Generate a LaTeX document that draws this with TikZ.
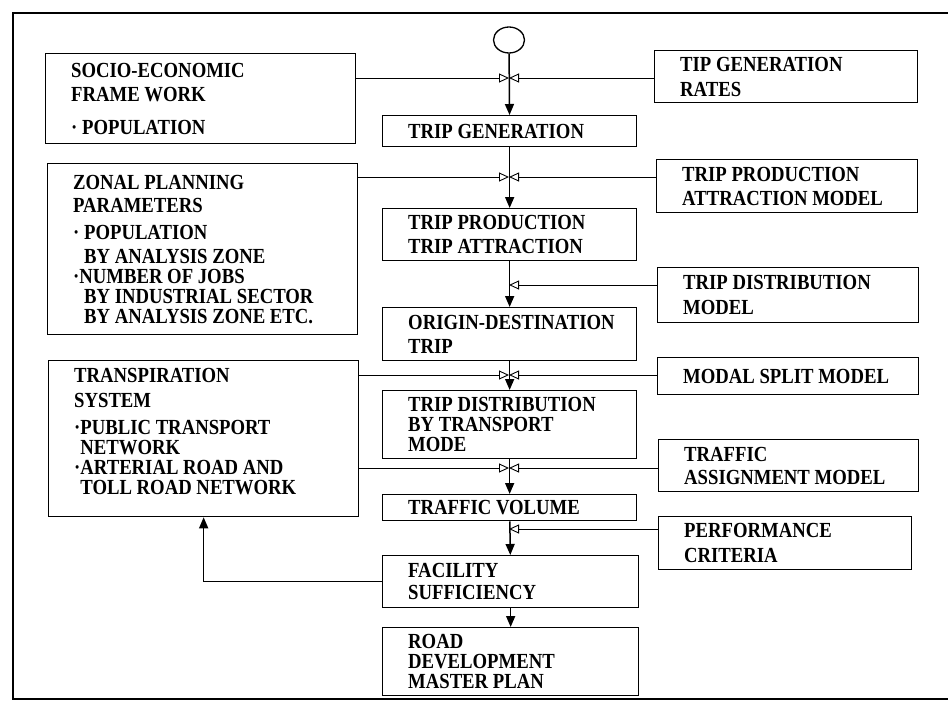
\documentclass[tikz,border=0pt]{standalone}
\usepackage{fontspec}
\setmainfont{Liberation Serif}
\newfontfamily\scanfont[FakeStretch=0.87]{Liberation Serif}
\usepackage{tikz}
\usetikzlibrary{arrows.meta,shapes.geometric,positioning,calc}

\begin{document}
\begin{tikzpicture}[x=1pt,y=-1pt,
		box/.style={draw,line width=1.3pt,anchor=north west,inner sep=0},
		txt/.style={anchor=west,align=left,inner sep=0,font=\scanfont\fontsize{21.5}{20}\selectfont\bfseries},
		main/.style={line width=1.5pt,-{Triangle[length=11pt,width=9pt]}},
		side/.style={line width=0.9pt,-{Triangle[open,length=10pt,width=9pt]}}]
		\useasboundingbox (0,0) rectangle (948,704);
		% outer frame
		\draw[line width=1.5pt] (948,13) -- (13,13) -- (13,699) -- (948,699);
		
		% left column
		\node[box,minimum width=310,minimum height=90] (socio) at (45,53) {};
		\node[txt] (socio-t) at ([xshift=26]socio.west) {SOCIO-ECONOMIC\\[4pt]FRAME WORK\\[13pt]\textperiodcentered{} POPULATION};
		\node[box,minimum width=310,minimum height=171] (zonal) at (47,163) {};
		\node[txt] (zonal-t) at ([xshift=26]zonal.west) {ZONAL PLANNING\\[3pt]PARAMETERS\\[7pt]\textperiodcentered{} POPULATION\\[4pt]\phantom{\textperiodcentered{} }BY ANALYSIS ZONE\\\textperiodcentered NUMBER OF JOBS\\\phantom{\textperiodcentered{} }BY INDUSTRIAL SECTOR\\\phantom{\textperiodcentered{} }BY ANALYSIS ZONE ETC.};
		\node[box,minimum width=310,minimum height=156] (transp) at (48,360) {};
		\node[txt] (transp-t) at ([xshift=26,yshift=7]transp.west) {TRANSPIRATION\\[5pt]SYSTEM\\[7pt]\textperiodcentered PUBLIC TRANSPORT\\\phantom{\textperiodcentered{}}NETWORK\\\textperiodcentered ARTERIAL ROAD AND\\\phantom{\textperiodcentered{}}TOLL ROAD NETWORK};
		
		% centre column
		\node[draw,ellipse,line width=1.3pt,minimum width=31,minimum height=26,inner sep=0] (start) at (509,40) {};
		\node[box,minimum width=254,minimum height=31] (gen) at (382,115) {};
		\node[txt] (gen-t) at ([xshift=26]gen.west) {TRIP GENERATION};
		\node[box,minimum width=254,minimum height=52] (prod) at (382,208) {};
		\node[txt] (prod-t) at ([xshift=26]prod.west) {TRIP PRODUCTION\\[4pt]TRIP ATTRACTION};
		\node[box,minimum width=254,minimum height=53] (od) at (382,307) {};
		\node[txt] (od-t) at ([xshift=26]od.west) {ORIGIN-DESTINATION\\[4pt]TRIP};
		\node[box,minimum width=254,minimum height=68] (tdbm) at (382,390) {};
		\node[txt] (tdbm-t) at ([xshift=26]tdbm.west) {TRIP DISTRIBUTION\\BY TRANSPORT\\MODE};
		\node[box,minimum width=254,minimum height=26] (vol) at (382,494) {};
		\node[txt] (vol-t) at ([xshift=26]vol.west) {TRAFFIC VOLUME};
		\node[box,minimum width=256,minimum height=52] (fac) at (382,555) {};
		\node[txt] (fac-t) at ([xshift=26]fac.west) {FACILITY\\[2pt]SUFFICIENCY};
		\node[box,minimum width=256,minimum height=68] (road) at (382,627) {};
		\node[txt] (road-t) at ([xshift=26]road.west) {ROAD\\DEVELOPMENT\\MASTER PLAN};
		
		% right column
		\node[box,minimum width=263,minimum height=52] (rates) at (654,50) {};
		\node[txt] (rates-t) at ([xshift=26]rates.west) {TIP GENERATION\\[5pt]RATES};
		\node[box,minimum width=261,minimum height=53] (tpam) at (656,159) {};
		\node[txt] (tpam-t) at ([xshift=26]tpam.west) {TRIP PRODUCTION\\[4pt]ATTRACTION MODEL};
		\node[box,minimum width=261,minimum height=55] (tdm) at (657,267) {};
		\node[txt] (tdm-t) at ([xshift=26]tdm.west) {TRIP DISTRIBUTION\\[5pt]MODEL};
		\node[box,minimum width=261,minimum height=37] (msm) at (657,357) {};
		\node[txt] (msm-t) at ([xshift=26]msm.west) {MODAL SPLIT MODEL};
		\node[box,minimum width=260,minimum height=52] (tam) at (658,439) {};
		\node[txt] (tam-t) at ([xshift=26]tam.west) {TRAFFIC\\[3pt]ASSIGNMENT MODEL};
		\node[box,minimum width=253,minimum height=53] (pc) at (658,516) {};
		\node[txt] (pc-t) at ([xshift=26]pc.west) {PERFORMANCE\\[5pt]CRITERIA};
		
		% junctions on the main line
		\coordinate (j1) at (509,78);
		\coordinate (j2) at (509,177);
		\coordinate (j3) at (509,285);
		\coordinate (j4) at (509,375);
		\coordinate (j5) at (509,468);
		\coordinate (j6) at (509,529);
		
		% main flow
		\draw[main] (start) -- (gen);
		\draw[main] (gen) -- (prod);
		\draw[main] (prod) -- (od);
		\draw[main] (od) -- (tdbm);
		\draw[main] (tdbm) -- (vol);
		\draw[main] (vol) -- (fac);
		\draw[main] (fac) -- (road);
		
		% inputs
		\draw[side] (socio.east |- j1) -- (j1);
		\draw[side] (rates.west |- j1) -- (j1);
		\draw[side] (zonal.east |- j2) -- (j2);
		\draw[side] (tpam.west |- j2) -- (j2);
		\draw[side] (tdm.west |- j3) -- (j3);
		\draw[side] (transp.east |- j4) -- (j4);
		\draw[side] (msm.west |- j4) -- (j4);
		\draw[side] (transp.east |- j5) -- (j5);
		\draw[side] (tam.west |- j5) -- (j5);
		\draw[side] (pc.west |- j6) -- (j6);
		
		% feedback
		\draw[main] (fac.west) -| (transp.south);
\end{tikzpicture}
\end{document}
